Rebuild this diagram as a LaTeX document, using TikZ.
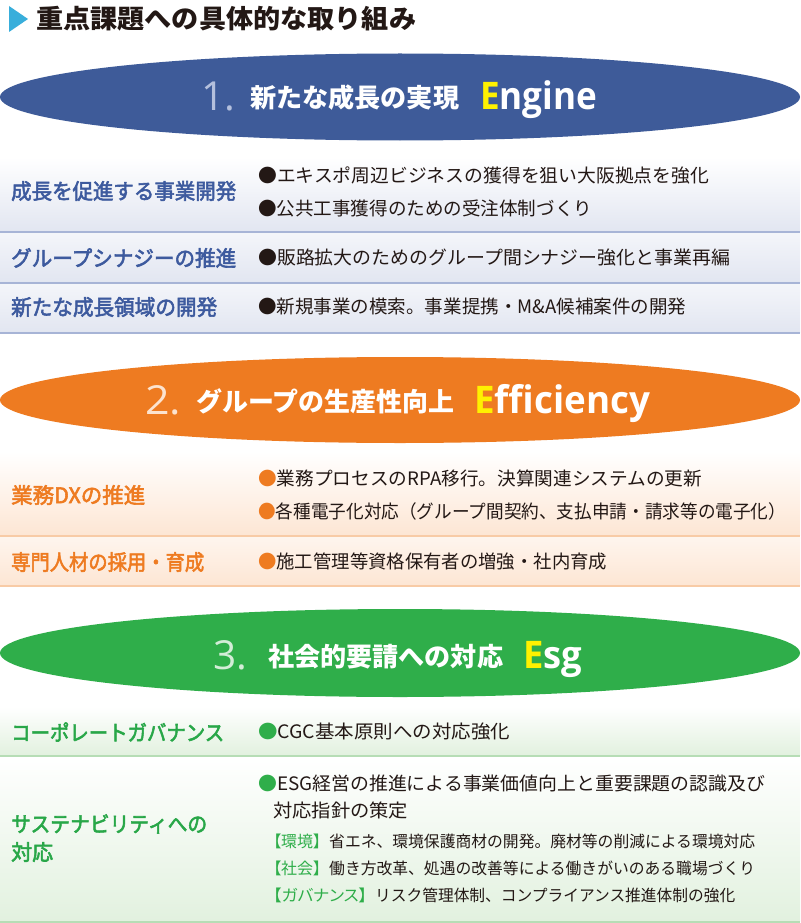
\documentclass[tikz,border=0pt]{standalone}
\usepackage{fontspec}
\usepackage{graphicx}
\setmainfont{Noto Sans CJK JP}
\newfontfamily\jp{Noto Sans CJK JP}
\newfontfamily\jpp{Noto Sans CJK JP}[RawFeature=+palt]
\newfontfamily\jpm{Noto Sans CJK JP}[FakeBold=2.6]
\newfontfamily\lat{Open Sans}
\usetikzlibrary{shapes.geometric}
\definecolor{cblue}{HTML}{3E5B99}
\definecolor{cbluelab}{HTML}{3D5A9E}
\definecolor{corange}{HTML}{EE7B21}
\definecolor{cgreen}{HTML}{2FAE4A}
\definecolor{cgreenlab}{HTML}{28A748}
\definecolor{cyel}{HTML}{FFF100}
\definecolor{cink}{HTML}{231815}
\definecolor{ccyan}{HTML}{38AEDB}
\definecolor{cnum1}{HTML}{B4C0DD}
\definecolor{cnum2}{HTML}{FCE3CF}
\definecolor{cnum3}{HTML}{D3EDD7}
\definecolor{cbg1}{HTML}{E2E6F1}
\definecolor{cln1}{HTML}{A7B4D6}
\definecolor{cbg2}{HTML}{FDE6D4}
\definecolor{cln2}{HTML}{F8CBA6}
\definecolor{cbg3}{HTML}{E2F1DF}
\definecolor{cln3}{HTML}{B6DDB5}
\newcommand{\fw}[2]{\resizebox{#1}{\height}{#2}}
\tikzset{
  oval/.style={ellipse, minimum width=800pt, inner sep=0pt},
  num/.style={anchor=base west, inner sep=0pt, font=\lat\fontsize{40}{40}\selectfont},
  head/.style={anchor=base west, inner sep=0pt, text=white, font=\jp\bfseries\fontsize{26}{26}\selectfont},
  eng/.style={anchor=base west, inner sep=0pt, text=white, font=\lat\bfseries\fontsize{38}{38}\selectfont},
  lab/.style={anchor=west, inner sep=0pt, font=\jpm\fontsize{21.5}{21.5}\selectfont},
  item/.style={anchor=west, inner sep=0pt, text=cink, font=\jp\fontsize{18.5}{18.5}\selectfont},
  sub/.style={anchor=west, inner sep=0pt, text=cink, font=\jp\fontsize{16}{16}\selectfont},
  subk/.style={anchor=west, inner sep=0pt, text=cgreen, font=\jpp\fontsize{16}{16}\selectfont},
  sep/.style={line width=2pt}
}
\begin{document}
\begin{tikzpicture}[x=1pt,y=-1pt]
\useasboundingbox (0,0) rectangle (800,923);
\fill[white] (0,0) rectangle (800,923);
% title
\fill[ccyan] (9,6) -- (28,19) -- (9,32) -- cycle;
\node[anchor=west, inner sep=0pt, text=cink, font=\jp\bfseries\fontsize{26}{26}\selectfont] (title) at (36,19) {\fw{380pt}{重点課題への具体的な取り組み}};

% ===== Section 1 =====
\node[oval, fill=cblue, minimum height=87pt] (e1) at (400,97) {};
\node[num, text=cnum1] (n1) at (201,111) {\fw{34pt}{1.}};
\node[head] (h1) at (250,108) {\fw{209pt}{新たな成長の実現}};
\node[eng] (g1) at (480,110) {\fw{117pt}{{\color{cyel}E}ngine}};

\shade[top color=white, bottom color=cbg1] (0,157) rectangle (800,231);
\shade[top color=white!60!cbg1, bottom color=cbg1] (0,233) rectangle (800,282);
\shade[top color=white!60!cbg1, bottom color=cbg1] (0,284) rectangle (800,332);
\draw[sep, cln1] (0,232) -- (800,232);
\draw[sep, cln1] (0,283) -- (800,283);
\draw[sep, cln1] (0,333) -- (800,333);

\node[lab, text=cbluelab] (l11) at (11,191) {\fw{225pt}{成長を促進する事業開発}};
\node[lab, text=cbluelab] (l12) at (11,258) {\fw{225pt}{グループシナジーの推進}};
\node[lab, text=cbluelab] (l13) at (11,307) {\fw{206pt}{新たな成長領域の開発}};
\node[item] (i11) at (258,175) {\fw{451pt}{●エキスポ周辺ビジネスの獲得を狙い大阪拠点を強化}};
\node[item] (i12) at (258,208) {\fw{334pt}{●公共工事獲得のための受注体制づくり}};
\node[item] (i13) at (258,258) {\fw{472pt}{●販路拡大のためのグループ間シナジー強化と事業再編}};
\node[item] (i14) at (258,307) {\fw{428pt}{●新規事業の模索。事業提携・M\&A候補案件の開発}};

% ===== Section 2 =====
\node[oval, fill=corange, minimum height=86pt] (e2) at (400,400) {};
\node[num, text=cnum2] (n2) at (145,414) {\fw{36pt}{2.}};
\node[head] (h2) at (196,411) {\fw{258pt}{グループの生産性向上}};
\node[eng] (g2) at (474,413) {\fw{176pt}{{\color{cyel}E}fficiency}};

\shade[top color=white, bottom color=cbg2] (0,452) rectangle (800,535);
\shade[top color=white!60!cbg2, bottom color=cbg2] (0,537) rectangle (800,585);
\draw[sep, cln2] (0,536) -- (800,536);
\draw[sep, cln2] (0,586) -- (800,586);

\node[lab, text=corange] (l21) at (11,495) {\fw{134pt}{業務DXの推進}};
\node[lab, text=corange] (l22) at (11,562) {\fw{193pt}{専門人材の採用・育成}};
\node[item] (i21) at (258,478) {\fw{444pt}{{\color{corange}●}業務プロセスのRPA移行。決算関連システムの更新}};
\node[item] (i22) at (258,511) {\fw{528pt}{{\color{corange}●}各種電子化対応（グループ間契約、支払申請・請求等の電子化）}};
\node[item] (i23) at (258,562) {\fw{349pt}{{\color{corange}●}施工管理等資格保有者の増強・社内育成}};

% ===== Section 3 =====
\node[oval, fill=cgreen, minimum height=88pt] (e3) at (400,653) {};
\node[num, text=cnum3] (n3) at (213,669) {\fw{34pt}{3.}};
\node[head] (h3) at (268,666) {\fw{235pt}{社会的要請への対応}};
\node[eng] (g3) at (523,668) {\fw{59pt}{{\color{cyel}E}sg}};

\shade[top color=white, bottom color=cbg3] (0,707) rectangle (800,755);
\shade[top color=white, bottom color=cbg3] (0,757) rectangle (800,921);
\draw[sep, cln3] (0,756) -- (800,756);
\draw[sep, cln3] (0,922) -- (800,922);

\node[lab, text=cgreenlab] (l31) at (11,732) {\fw{213pt}{コーポレートガバナンス}};
\node[lab, text=cgreenlab] (l32) at (11,824) {\fw{196pt}{サステナビリティへの}};
\node[lab, text=cgreenlab] (l33) at (11,852) {\fw{42pt}{対応}};
\node[item] (i31) at (258,732) {\fw{252pt}{{\color{cgreen}●}CGC基本原則への対応強化}};
\node[item] (i32) at (258,783) {\fw{507pt}{{\color{cgreen}●}ESG経営の推進による事業価値向上と重要課題の認識及び}};
\node[item] (i33) at (273,810) {\fw{135pt}{対応指針の策定}};
\node[subk] (s1a) at (273,841) {\fw{48pt}{【環境】}};
\node[sub] (s1b) at (329,841) {\fw{426pt}{省エネ、環境保護商材の開発。廃材等の削減による環境対応}};
\node[subk] (s2a) at (273,868) {\fw{48pt}{【社会】}};
\node[sub] (s2b) at (329,868) {\fw{426pt}{働き方改革、処遇の改善等による働きがいのある職場づくり}};
\node[subk] (s3a) at (273,895) {\fw{94pt}{【ガバナンス】}};
\node[sub] (s3b) at (375,895) {\fw{360pt}{リスク管理体制、コンプライアンス推進体制の強化}};
\end{tikzpicture}
\end{document}
